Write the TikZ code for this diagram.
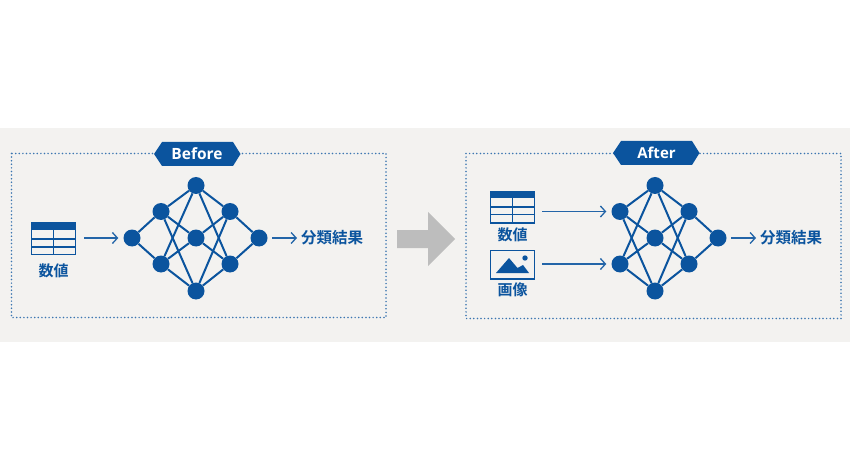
\documentclass[tikz,border=0pt]{standalone}
\usepackage{fontspec}
\setmainfont{Open Sans}
\newfontfamily\cjk{Noto Sans CJK JP}[BoldFont={Noto Sans CJK JP Bold}]
\usetikzlibrary{arrows.meta}
\definecolor{nnblue}{HTML}{0B549E}
\definecolor{band}{HTML}{F3F2F0}
\definecolor{graybig}{HTML}{BDBDBD}
\tikzset{
  neuron/.style={circle,fill=nnblue,minimum size=17pt,inner sep=0pt},
  edge/.style={draw=nnblue,line width=2pt},
  flow/.style={draw=nnblue!90!white,line width=1.4pt,shorten >=5pt,-{Straight Barb[length=5pt,width=11pt,line width=1.3pt]}},
  frame/.style={draw=nnblue!80!white,line width=1.7pt,line cap=round,dash pattern=on 0pt off 3.6pt},
  badge/.style={fill=nnblue,draw=none},
  badgetext/.style={text=white,inner sep=0pt},
  jp/.style={text=nnblue,font=\cjk\bfseries\fontsize{15}{15}\selectfont,inner sep=0pt},
  jpres/.style={jp,font=\cjk\bfseries\fontsize{15.5}{15.5}\selectfont},
  iconline/.style={draw=nnblue,line width=1.3pt},
  iconbox/.style={draw=nnblue,line width=1.6pt,inner sep=0pt,rectangle,anchor=north west,outer sep=0pt},
}
% #1 name, #2 x, #3 y top, #4 header bottom, #5 row1, #6 row2, #7 bottom
\newcommand{\tableicon}[7]{%
  \fill[nnblue] (#2,#3) rectangle (#2+44,#4);
  \node[iconbox,minimum width=44pt,minimum height=#7pt-#3pt] (#1) at (#2,#3) {};
  \draw[iconline] (#2,#5) -- (#2+44,#5);
  \draw[iconline] (#2,#6) -- (#2+44,#6);
  \draw[iconline] (#2+22,#4) -- (#2+22,#7);
}
\begin{document}
\begin{tikzpicture}[x=1pt,y=-1pt]
\useasboundingbox (0,0) rectangle (850,470);
\fill[white] (0,0) rectangle (850,470);
\fill[band] (0,128) rectangle (850,342);
% frames
\draw[frame] (11.5,153.5) rectangle (386,317.5);
\draw[frame] (466,153.5) rectangle (841,318.5);
% badges
\fill[badge] (154,154) -- (162,142) -- (233,142) -- (240.5,154) -- (233,166) -- (162,166) -- cycle;
\node[badgetext,font=\bfseries\fontsize{15.5}{15.5}\selectfont] (beforelabel) at (197,154) {Before};
\fill[badge] (613,153) -- (621,141) -- (692,141) -- (699.5,153) -- (692,165) -- (621,165) -- cycle;
\node[badgetext,font=\bfseries\fontsize{15}{15}\selectfont] (afterlabel) at (656.5,153) {After};
% big arrow
\fill[graybig] (397,230) -- (428,230) -- (428,212) -- (455,239) -- (428,266) -- (428,248) -- (397,248) -- cycle;
% networks
\foreach \p/\xo in {b/161,a/620}{
  \begin{scope}[xshift=\xo pt]
    \node[neuron] (\p l1) at (0,211.5) {};
    \node[neuron] (\p l2) at (0,264) {};
    \node[neuron] (\p m1) at (35,185.5) {};
    \node[neuron] (\p m2) at (35,238) {};
    \node[neuron] (\p m3) at (35,291) {};
    \node[neuron] (\p r1) at (69,211.5) {};
    \node[neuron] (\p r2) at (69,264) {};
    \node[neuron] (\p o) at (98,238) {};
  \end{scope}
  \foreach \s in {l1,l2,r1,r2}{
    \foreach \t in {m1,m2,m3}{\draw[edge] (\p\s) -- (\p\t);}
  }
  \draw[edge] (\p r1) -- (\p o);
  \draw[edge] (\p r2) -- (\p o);
}
% before input neuron
\node[neuron] (bi) at (132,238) {};
\draw[edge] (bi) -- (bl1);
\draw[edge] (bi) -- (bl2);
% before icon and labels
\tableicon{btable}{31.5}{222.5}{230}{239}{247}{254.5}
\node[jp] (bnum) at (53.5,271) {数値};
\coordinate (bstart) at (84,238);
\draw[flow] (bstart) -- (bi.west);
\node[jpres] (bres) at (332,238) {分類結果};
\coordinate (bend) at (302,238);
\coordinate (bfrom) at (272,238);
\draw[flow] (bfrom) -- (bend);
% after icons
\tableicon{atable}{490.5}{191.5}{198}{207}{214.5}{223}
\node[jp] (anum) at (512.5,235) {数値};
\node[iconbox,minimum width=44pt,minimum height=28.5pt] (aimg) at (490.5,250.5) {};
\fill[nnblue] (496,273) -- (509,258) -- (517.5,268) -- (523,265) -- (529,273) -- cycle;
\fill[nnblue] (525,258) circle (2.7);
\node[jp] (aimgl) at (512.5,290) {画像};
\coordinate (astart1) at (542,211.5);
\coordinate (astart2) at (542,264);
\draw[flow] (astart1) -- (al1.west);
\draw[flow] (astart2) -- (al2.west);
\node[jpres] (ares) at (791,238) {分類結果};
\coordinate (aend) at (761,238);
\coordinate (afrom) at (731,238);
\draw[flow] (afrom) -- (aend);
\end{tikzpicture}
\end{document}
